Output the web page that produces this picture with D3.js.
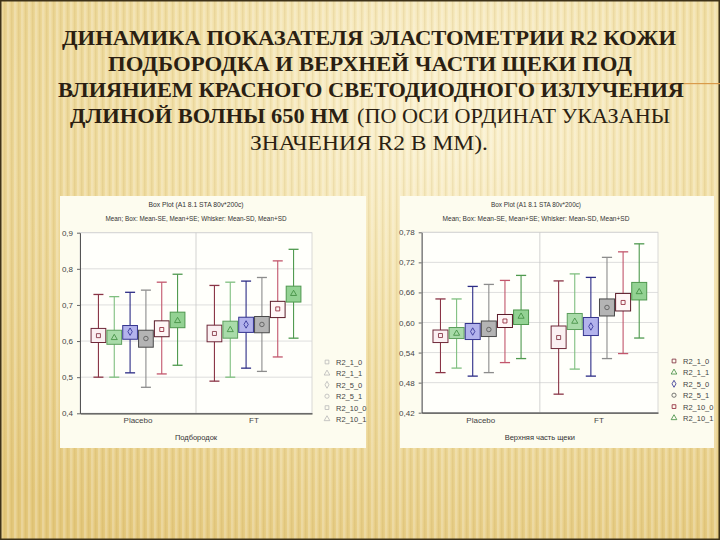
<!DOCTYPE html>
<html><head><meta charset="utf-8">
<script src="https://cdn.jsdelivr.net/npm/d3@7"></script>
<style>body{margin:0;padding:0;background:#fff}svg{display:block}
.ttl{font-family:"Times New Roman",serif;}
.sm{font-family:"Liberation Sans",Arial,sans-serif;}
</style>
</head><body>
<svg id="c" width="720" height="540"></svg>
<script>
// ---------- DATA ----------
const series = ["R2_1_0","R2_1_1","R2_5_0","R2_5_1","R2_10_0","R2_10_1"];
const groups = ["Placebo","FT"];
const titleParts = [
  {t:"ДИНАМИКА ПОКАЗАТЕЛЯ ЭЛАСТОМЕТРИИ  R2  КОЖИ", b:true},
  {t:"ПОДБОРОДКА И ВЕРХНЕЙ ЧАСТИ ЩЕКИ   ПОД", b:true},
  {t:"ВЛИЯНИЕМ КРАСНОГО СВЕТОДИОДНОГО ИЗЛУЧЕНИЯ", b:true},
  {t:"ДЛИНОЙ ВОЛНЫ 650 НМ", b:true},
  {t:"(ПО ОСИ ОРДИНАТ УКАЗАНЫ", b:false},
  {t:"ЗНАЧЕНИЯ  R2  В ММ).", b:false}
];
const chartTitle1 = "Box Plot (A1 8.1 STA 80v*200c)";
const chartTitle2 = "Mean; Box: Mean-SE, Mean+SE; Whisker: Mean-SD, Mean+SD";

// Chin (Подбородок): rows = groups, columns = series
const chinTicks = [0.4,0.5,0.6,0.7,0.8,0.9];
const chinMean   = [[0.615,0.609,0.626,0.607,0.632,0.656],[0.621,0.631,0.646,0.646,0.689,0.731]];
const chinBoxHi  = [[0.635,0.630,0.643,0.630,0.656,0.680],[0.644,0.655,0.666,0.668,0.710,0.752]];
const chinBoxLo  = [[0.596,0.591,0.605,0.583,0.612,0.637],[0.598,0.608,0.624,0.623,0.665,0.708]];
const chinWhHi   = [[0.729,0.723,0.735,0.741,0.763,0.785],[0.754,0.763,0.766,0.776,0.822,0.854]];
const chinWhLo   = [[0.500,0.500,0.512,0.472,0.509,0.533],[0.489,0.500,0.525,0.516,0.556,0.608]];

// Upper cheek (Верхняя часть щеки)
const cheekTicks = [0.42,0.48,0.54,0.60,0.66,0.72,0.78];
const cheekMean  = [[0.574,0.578,0.582,0.586,0.603,0.612],[0.570,0.602,0.592,0.630,0.640,0.661]];
const cheekBoxHi = [[0.585,0.590,0.598,0.603,0.616,0.625],[0.593,0.618,0.610,0.647,0.658,0.680]];
const cheekBoxLo = [[0.560,0.568,0.566,0.572,0.590,0.596],[0.548,0.586,0.574,0.613,0.623,0.645]];
const cheekWhHi  = [[0.647,0.647,0.672,0.676,0.684,0.694],[0.683,0.697,0.690,0.730,0.741,0.757]];
const cheekWhLo  = [[0.500,0.509,0.493,0.500,0.520,0.528],[0.457,0.507,0.493,0.528,0.538,0.569]];

// ---------- STYLES ----------
const boxFill   = ["#fbf0f2","#a9dba9","#b3b3ec","#b4b4b4","#fff6f6","#93d293"];
const boxStroke = ["#6e2838","#5d9f5d","#34348e","#4a4a4a","#5a1a28","#4e974e"];
const whColor   = ["#8a3446","#7fbf7f","#2c2c86","#8c8c8c","#c2566c","#4f9a4f"];
const mkColor   = ["#7a2636","#3c8a3c","#2a2a90","#555555","#8a1a2e","#3c8a3c"];
const mkShape   = [d3.symbolSquare,d3.symbolTriangle,d3.symbolDiamond,d3.symbolCircle,d3.symbolSquare,d3.symbolTriangle];

const svg = d3.select("#c");
const defs = svg.append("defs");

// background
const bg = defs.append("radialGradient").attr("id","bgG").attr("cx","0.62").attr("cy","0.22").attr("r","0.9");
bg.append("stop").attr("offset","0").attr("stop-color","#fbf2d2");
bg.append("stop").attr("offset","0.45").attr("stop-color","#f1dfa6");
bg.append("stop").attr("offset","1").attr("stop-color","#e4c87c");
const pat = defs.append("pattern").attr("id","stripes").attr("width",7).attr("height",540).attr("patternUnits","userSpaceOnUse");
pat.append("rect").attr("x",0).attr("y",0).attr("width",2.5).attr("height",540).attr("fill","#ffffff").attr("opacity",0.22);
pat.append("rect").attr("x",4).attr("y",0).attr("width",1.5).attr("height",540).attr("fill","#b8963e").attr("opacity",0.14);

svg.append("rect").attr("width",720).attr("height",540).attr("fill","url(#bgG)");
svg.append("rect").attr("width",720).attr("height",540).attr("fill","url(#stripes)");
svg.append("rect").attr("x",0.75).attr("y",0.75).attr("width",718.5).attr("height",538.5).attr("fill","none").attr("stroke","#3e3218").attr("stroke-width",1.5);

// decorative line
const lg = defs.append("linearGradient").attr("id","lineG");
lg.append("stop").attr("offset","0").attr("stop-color","#d99a4a").attr("stop-opacity",0);
lg.append("stop").attr("offset","0.6").attr("stop-color","#d99a4a").attr("stop-opacity",0.9);
lg.append("stop").attr("offset","1").attr("stop-color","#d99a4a").attr("stop-opacity",1);
svg.append("rect").attr("x",420).attr("y",83).attr("width",300).attr("height",1.2).attr("fill","url(#lineG)");

// title
const titleY = [45, 71, 97, 123, 123, 150];
const titleX = [[62,676],[108,632],[58,684],[70,349],[357,670],[250,488]];
titleParts.forEach((p,i)=>{
  svg.append("text").attr("class","ttl").attr("x",(titleX[i][0]+titleX[i][1])/2).attr("y",titleY[i])
    .attr("text-anchor","middle").attr("font-weight",p.b?"bold":"normal")
    .attr("font-size",22).attr("fill","#2b1f12")
    .attr("textLength",titleX[i][1]-titleX[i][0]).attr("lengthAdjust","spacingAndGlyphs").text(p.t);
});

const fmt = (f)=> (v)=> d3.format(f)(v).replace(".",",");

function drawChart(cfg){
  const g = svg.append("g");
  g.append("rect").attr("x",cfg.panel[0]).attr("y",cfg.panel[1]).attr("width",cfg.panel[2]).attr("height",cfg.panel[3])
    .attr("fill","#fdfcef");
  const x0 = d3.scaleBand().domain(groups).range([cfg.left,cfg.right]).padding(0);
  const x1 = d3.scaleBand().domain(series).range([0,x0.bandwidth()]).paddingInner(0.07).paddingOuter(0.7);
  const y = d3.scaleLinear().domain(cfg.domain).range([cfg.bottom,cfg.top]);

  g.append("rect").attr("x",cfg.left).attr("y",cfg.top).attr("width",cfg.right-cfg.left).attr("height",cfg.bottom-cfg.top)
    .attr("fill","#fffffb").attr("stroke","#cfcfcf").attr("stroke-width",0.8);
  g.selectAll(".gl").data(cfg.ticks).join("line")
    .attr("x1",cfg.left).attr("x2",cfg.right).attr("y1",d=>y(d)).attr("y2",d=>y(d))
    .attr("stroke","#d6d6d6").attr("stroke-width",0.8);
  g.append("line").attr("x1",x0("FT")).attr("x2",x0("FT")).attr("y1",cfg.top).attr("y2",cfg.bottom)
    .attr("stroke","#c8c8c8").attr("stroke-width",0.8);

  const ya = g.append("g").attr("transform",`translate(${cfg.left},0)`)
    .call(d3.axisLeft(y).tickValues(cfg.ticks).tickFormat(fmt(cfg.tf)).tickSize(3).tickSizeOuter(0));
  ya.select(".domain").attr("stroke","#555").attr("stroke-width",1);
  ya.selectAll(".tick line").attr("stroke","#666");
  ya.selectAll("text").attr("class","sm").attr("font-size",8).attr("fill","#444").attr("dx",-1);
  const xa = g.append("g").attr("transform",`translate(0,${cfg.bottom})`)
    .call(d3.axisBottom(x0).tickSize(0).tickSizeOuter(0));
  xa.select(".domain").attr("stroke","#444").attr("stroke-width",1.2);
  xa.selectAll("text").attr("class","sm").attr("font-size",8).attr("fill","#444").attr("dy","0.9em");

  groups.forEach((grp,gi)=>{
    series.forEach((s,si)=>{
      const cx = x0(grp)+x1(s)+x1.bandwidth()/2;
      const bw = x1.bandwidth();
      const cap = bw*0.68;
      const wc = whColor[si];
      g.append("line").attr("x1",cx).attr("x2",cx).attr("y1",y(cfg.whHi[gi][si])).attr("y2",y(cfg.whLo[gi][si]))
        .attr("stroke",wc).attr("stroke-width",1.1);
      [cfg.whHi[gi][si],cfg.whLo[gi][si]].forEach(v=>{
        g.append("line").attr("x1",cx-cap/2).attr("x2",cx+cap/2).attr("y1",y(v)).attr("y2",y(v))
          .attr("stroke",wc).attr("stroke-width",1.3);
      });
      g.append("rect").attr("x",cx-bw/2).attr("y",y(cfg.boxHi[gi][si])).attr("width",bw)
        .attr("height",y(cfg.boxLo[gi][si])-y(cfg.boxHi[gi][si]))
        .attr("fill",boxFill[si]).attr("stroke",boxStroke[si]).attr("stroke-width",1);
      g.append("path").attr("d",d3.symbol().type(mkShape[si]).size(16)())
        .attr("transform",`translate(${cx},${y(cfg.mean[gi][si])})`)
        .attr("fill","none").attr("stroke",mkColor[si]).attr("stroke-width",0.8);
    });
  });

  g.append("text").attr("class","sm").attr("x",cfg.tc).attr("y",cfg.panel[1]+11).attr("text-anchor","middle")
    .attr("font-size",7).attr("fill","#333")
    .attr("textLength",cfg.t1w).attr("lengthAdjust","spacingAndGlyphs").text(chartTitle1);
  g.append("text").attr("class","sm").attr("x",cfg.tc).attr("y",cfg.panel[1]+25).attr("text-anchor","middle")
    .attr("font-size",7).attr("fill","#333")
    .attr("textLength",cfg.t2w).attr("lengthAdjust","spacingAndGlyphs").text(chartTitle2);
  g.append("text").attr("class","sm").attr("x",(cfg.left+cfg.right)/2).attr("y",cfg.bottom+27).attr("text-anchor","middle")
    .attr("font-size",7.5).attr("fill","#333").text(cfg.xTitle);

  const lgd = g.append("g").attr("transform",`translate(${cfg.legX},${cfg.legY})`);
  series.forEach((s,si)=>{
    const row = lgd.append("g").attr("transform",`translate(0,${si*11.4})`);
    row.append("path").attr("d",d3.symbol().type(mkShape[si]).size(14)())
      .attr("fill","none").attr("stroke",cfg.legColors ? mkColor[si] : "#b9b9b9").attr("stroke-width",0.8);
    row.append("text").attr("class","sm").attr("x",9).attr("y",3)
      .attr("font-size",7.5).attr("fill","#444").text(s);
  });
}

drawChart({panel:[60,196,306,252], left:80, right:312, top:232.7, bottom:413.3, domain:[0.4,0.9],
  ticks:chinTicks, tf:".1f", mean:chinMean, boxHi:chinBoxHi, boxLo:chinBoxLo, whHi:chinWhHi, whLo:chinWhLo,
  xTitle:"Подбородок", tc:196, t1w:95, t2w:181, legX:327, legY:362, legColors:false});
drawChart({panel:[400,196,314,252], left:421.7, right:658, top:232.3, bottom:412.7, domain:[0.42,0.78],
  ticks:cheekTicks, tf:".2f", mean:cheekMean, boxHi:cheekBoxHi, boxLo:cheekBoxLo, whHi:cheekWhHi, whLo:cheekWhLo,
  xTitle:"Верхняя часть щеки", tc:536, t1w:90, t2w:187, legX:674, legY:361, legColors:true});
</script>
</body></html>
